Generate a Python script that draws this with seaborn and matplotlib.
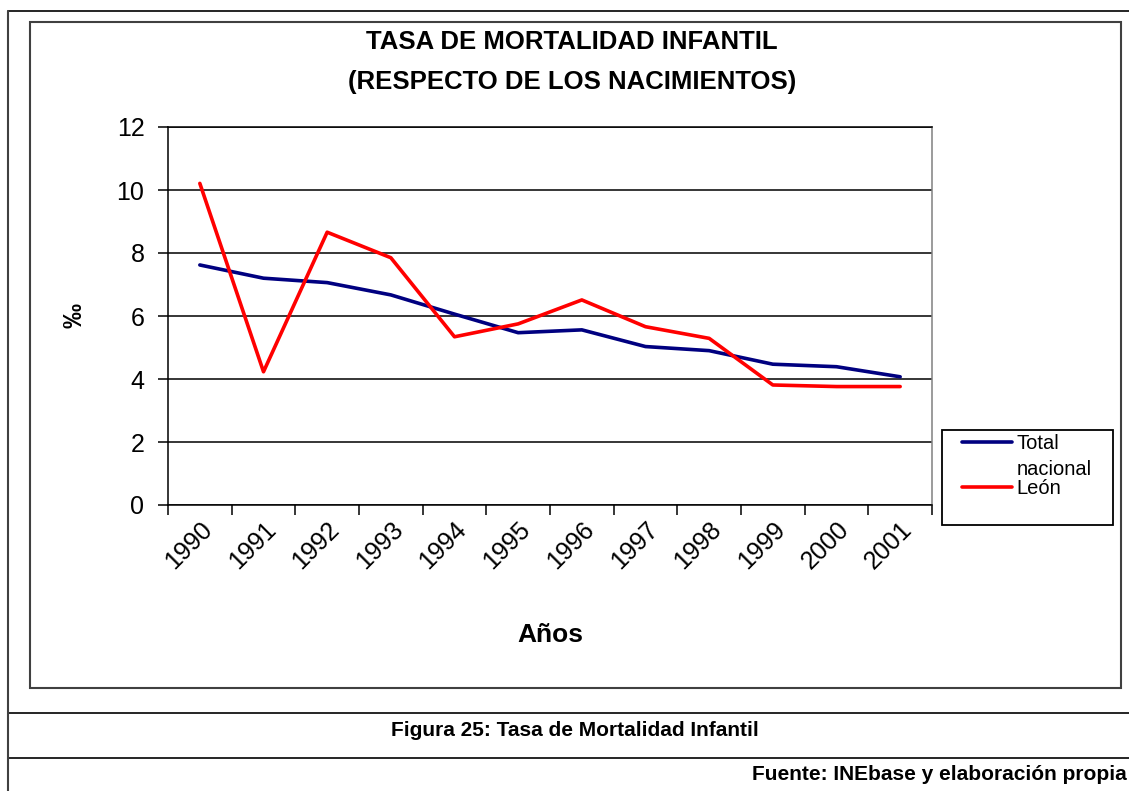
import pandas as pd
import matplotlib.pyplot as plt
import seaborn as sns
from matplotlib.lines import Line2D
from matplotlib.patches import Rectangle


years = list(range(1990, 2002))
total_nacional = [7.62, 7.20, 7.06, 6.67, 6.06, 5.47, 5.56, 5.03, 4.90, 4.47, 4.39, 4.07]
leon = [10.21, 4.23, 8.66, 7.85, 5.34, 5.75, 6.51, 5.66, 5.29, 3.81, 3.76, 3.76]
series_names = ["Total\nnacional", "León"]
series_colors = ["#000080", "#FF0000"]

df = pd.DataFrame({
    "Año": years * 2,
    "Tasa": total_nacional + leon,
    "Serie": [series_names[0]] * len(years) + [series_names[1]] * len(years),
})

sns.set_style("white")
plt.rcParams['font.family'] = ['Liberation Sans', 'DejaVu Sans']
plt.rcParams['text.color'] = 'black'
plt.rcParams['axes.labelcolor'] = 'black'
plt.rcParams['xtick.color'] = 'black'
plt.rcParams['ytick.color'] = 'black'

W, H = 1129, 791
fig = plt.figure(figsize=(W / 100, H / 100), dpi=100)
ax = fig.add_axes([168 / W, 1 - 505 / H, 764 / W, 378 / H])

sns.lineplot(data=df, x="Año", y="Tasa", hue="Serie",
             palette=dict(zip(series_names, series_colors)),
             linewidth=2.6, ax=ax, legend=False)

# axes
ax.set_xlim(years[0] - 0.5, years[-1] + 0.5)
ax.set_ylim(0, 12)
ax.set_yticks(range(0, 13, 2))
ax.set_xticks([y - 0.5 for y in years] + [years[-1] + 0.5])
ax.set_xticklabels([])
ax.set_xticks(years, minor=True)
ax.set_xticklabels([str(y) for y in years], minor=True)
ax.grid(axis='y', color='black', linewidth=1.1)
ax.tick_params(axis='y', which='major', direction='out', length=7, width=1.1,
               labelsize=18, pad=10, left=True, color='black')
ax.tick_params(axis='x', which='major', direction='out', length=7, width=1.1,
               bottom=True, color='black')
ax.tick_params(axis='x', which='minor', length=0, labelsize=18, pad=9)
for lab in ax.get_xticklabels(minor=True):
    lab.set_rotation(45)
    lab.set_ha('right')
    lab.set_va('top')
    lab.set_rotation_mode('anchor')
for side in ['left', 'bottom', 'top']:
    ax.spines[side].set_color('black')
    ax.spines[side].set_linewidth(1.1)
ax.spines['right'].set_color('#808080')
ax.spines['right'].set_linewidth(1.1)

ax.set_xlabel("Años", fontsize=19, fontweight='bold')
ax.xaxis.set_label_coords(0.5, (505 - 635) / 378)
ax.xaxis.label.set_va('center')
ax.set_ylabel("‰", fontsize=18, fontweight='bold')
ax.yaxis.set_label_coords((75 - 168) / 764, (505 - 315) / 378)
ax.yaxis.label.set_va('center')

# title
fig.text(572 / W, 1 - 42 / H, "TASA DE MORTALIDAD INFANTIL", ha='center', va='center',
         fontsize=18.5, fontweight='bold')
fig.text(572 / W, 1 - 82 / H, "(RESPECTO DE LOS NACIMIENTOS)", ha='center', va='center',
         fontsize=18.5, fontweight='bold')

# legend
handles = [Line2D([], [], color=c, linewidth=2.6) for c in series_colors]
leg = ax.legend(handles, series_names, loc='upper left',
                bbox_to_anchor=(962 / W, 1 - 434 / H), bbox_transform=fig.transFigure,
                frameon=False, fontsize=14.5, borderpad=0, borderaxespad=0,
                handlelength=2.5, handletextpad=0.2, labelspacing=0.0)
leg.get_texts()[0].set_linespacing(1.45)
art = leg.legend_handles[0]
art.set_ydata([v + 10.5 for v in art.get_ydata()])
fig.add_artist(Rectangle((942 / W, 1 - 525 / H), (1113 - 942) / W, (525 - 430) / H,
                         transform=fig.transFigure, fill=False, edgecolor='black', linewidth=1.3))

# chart area frame and page lines
fig.add_artist(Rectangle((30 / W, 1 - 688 / H), (1121 - 30) / W, (688 - 22) / H,
                         transform=fig.transFigure, fill=False, edgecolor='#404040', linewidth=1.5))
for yy in [11, 713, 758]:
    fig.add_artist(Line2D([8 / W, 1], [1 - yy / H, 1 - yy / H], transform=fig.transFigure,
                          color='black', linewidth=1.2))
fig.add_artist(Line2D([8 / W, 8 / W], [1 - 11 / H, 0], transform=fig.transFigure,
                      color='#404040', linewidth=1.5))

fig.text(575 / W, 1 - 730 / H, "Figura 25: Tasa de Mortalidad Infantil", ha='center', va='center',
         fontsize=15, fontweight='bold')
fig.text(1127 / W, 1 - 775 / H, "Fuente: INEbase y elaboración propia", ha='right', va='center',
         fontsize=15, fontweight='bold')

fig.savefig("out.png", dpi=100)
